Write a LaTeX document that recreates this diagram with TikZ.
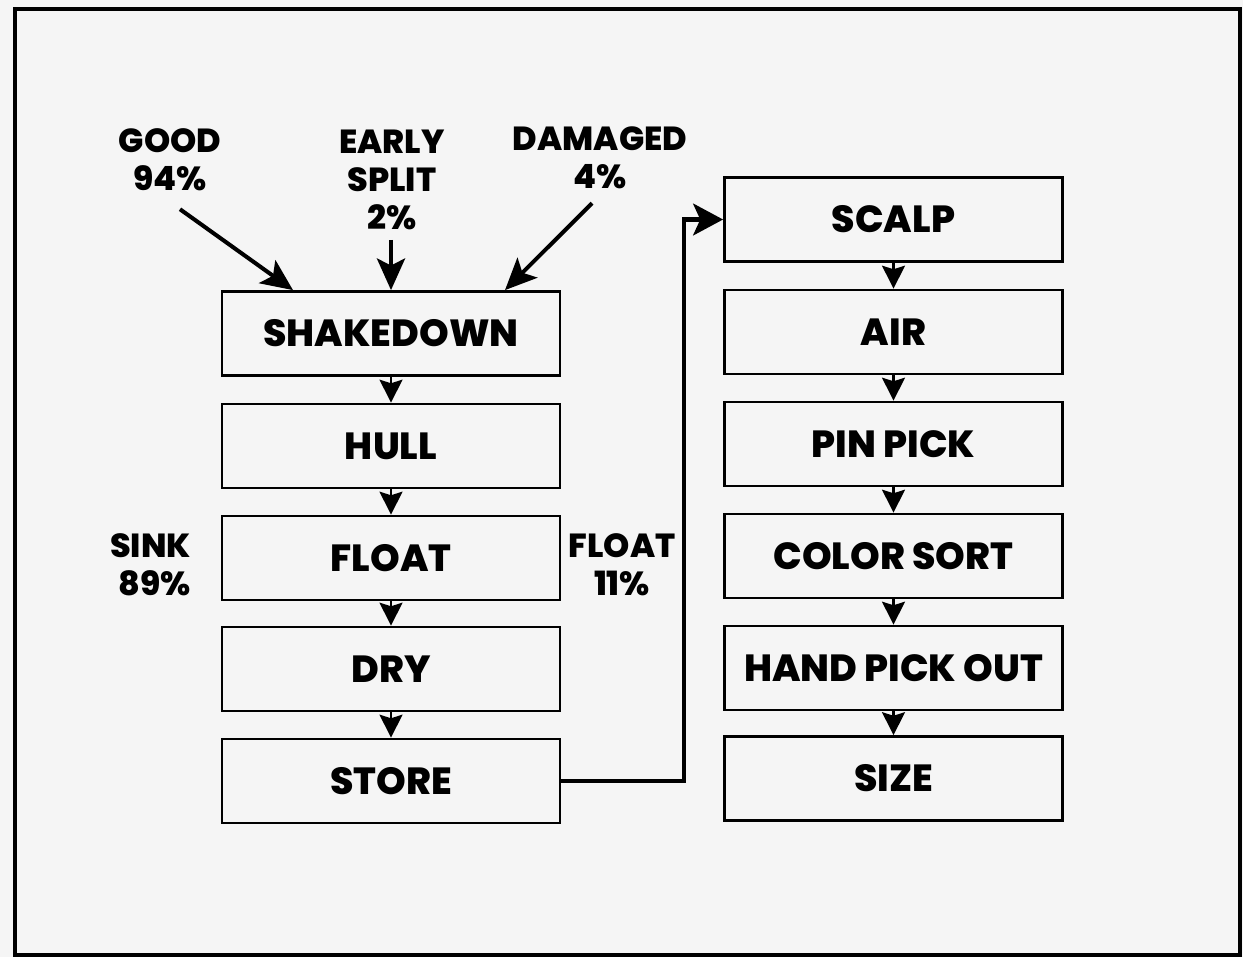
\documentclass[tikz,border=0pt]{standalone}
\usepackage{fontspec}
\setmainfont{Poppins}[BoldFont={Poppins ExtraBold}]
\usetikzlibrary{arrows.meta, positioning, calc}

\tikzset{
  stepbox/.style={draw, line width=1.6pt, minimum width=338*0.02cm, minimum height=84*0.02cm,
    inner sep=0pt, font=\fontsize{21.5}{24}\selectfont\bfseries},
  tag/.style={align=center, font=\fontsize{19}{21.5}\selectfont\bfseries},
  flow/.style={line width=1.6pt, -{Stealth[length=13pt, width=13pt, inset=2pt]}},
  feed/.style={line width=2.3pt, -{Stealth[length=18pt, width=16pt, inset=4pt]}},
  link/.style={line width=2.8pt, -{Stealth[length=17pt, width=18pt, inset=4pt]}}
}

\begin{document}
\begin{tikzpicture}[x=0.02cm, y=-0.02cm]
  % Hintergrund und Rahmen
  \useasboundingbox (0,0) rectangle (1243,957);
  \fill[black!4] (0,0) rectangle (1243,957);
  \draw[line width=2.2pt] (15,9) rectangle (1240,955);

  % linke Spalte
  \foreach \n/\y/\t in {s1/333.5/SHAKEDOWN, s2/446/HULL, s3/558/FLOAT, s4/669/DRY, s5/781/STORE} {
    \node[stepbox] (\n) at (391,\y) {\t};
  }
  \foreach \a/\b in {s1/s2, s2/s3, s3/s4, s4/s5} {
    \draw[flow] (\a) -- (\b);
  }

  % rechte Spalte
  \foreach \n/\y/\t in {r1/219.5/SCALP, r2/332/AIR, r3/444/PIN PICK, r4/556/COLOR SORT,
                        r5/668/HAND PICK OUT, r6/778.5/SIZE} {
    \node[stepbox] (\n) at (893.5,\y) {\t};
  }
  \foreach \a/\b in {r1/r2, r2/r3, r3/r4, r4/r5, r5/r6} {
    \draw[flow] (\a) -- (\b);
  }

  % Zulauf
  \node[tag] (good) at (170,160) {GOOD\\94\%};
  \node[tag] (early) at (392,180) {EARLY\\SPLIT\\2\%};
  \node[tag] (damaged) at (600,158) {DAMAGED\\4\%};
  \draw[feed] ($(good.south)+(10,12)$) -- ($(s1.north)+(-98,0)$);
  \draw[feed] ($(s1.north |- early.south)+(0,4)$) -- (s1.north);
  \draw[feed] ($(damaged.south)+(-8,8)$) -- ($(s1.north)+(114,0)$);

  % Anteile
  \node[tag, align=right, anchor=east] (sink) at (197,565) {SINK\\89\%};
  \node[tag] (float) at (622,565) {FLOAT\\11\%};

  % STORE -> SCALP
  \coordinate (turn) at (684,781);
  \draw[link] (s5.east) -- (turn) |- (r1.west);
\end{tikzpicture}
\end{document}
